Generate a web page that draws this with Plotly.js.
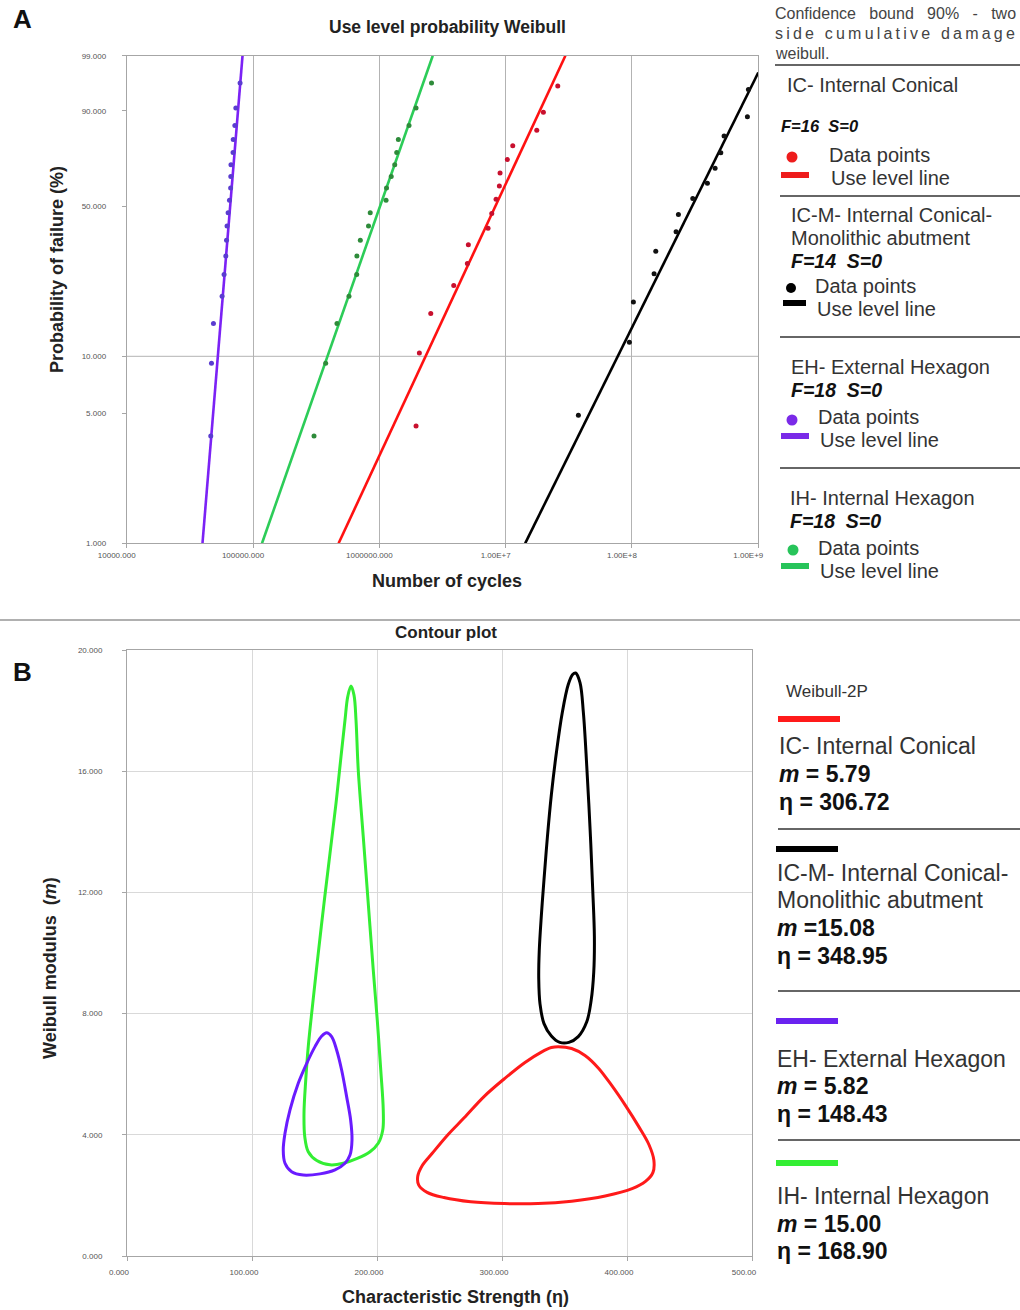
<!DOCTYPE html>
<html><head><meta charset="utf-8">
<script src="https://cdn.plot.ly/plotly-3.0.1.min.js"></script>
<style>html,body{margin:0;padding:0;background:#fff}#chart{width:1020px;height:1310px}</style>
</head><body><div id="chart"></div>
<script>
// ================= Panel A: Use level probability Weibull =================
const yTickProb = [1, 5, 10, 50, 90, 99];
const yTickText = ["1.000", "5.000", "10.000", "50.000", "90.000", "99.000"];
const yGridProb = [10];
const xTickCycles = [1e4, 1e5, 1e6, 1e7, 1e8, 1e9];
const xTickText = ["10000.000", "100000.000", "1000000.000", "1.00E+7", "1.00E+8", "1.00E+9"];

// EH - External Hexagon (purple), F=18
const ehProb = [3.8, 9.2, 14.7, 20.1, 25.5, 31.0, 36.4, 41.8, 47.3, 52.7, 58.2, 63.6, 69.0, 74.5, 79.9, 85.3, 90.8, 96.2];
const ehCycles = [46300, 46900, 48600, 56900, 59000, 60900, 61700, 62300, 63500, 65100, 66500, 66700, 66900, 69500, 69700, 71800, 73100, 79000];
const ehLineProb = [1, 99];
const ehLineCycles = [39800, 82600];

// IH - Internal Hexagon (green), F=18
const ihProb = [3.8, 9.2, 14.7, 20.1, 25.5, 31.0, 36.4, 41.8, 47.3, 52.7, 58.2, 63.6, 69.0, 74.5, 79.9, 85.3, 90.8, 96.2];
const ihCycles = [304000, 376000, 462000, 575000, 662000, 664000, 707000, 821000, 847000, 1130000, 1140000, 1242000, 1324000, 1373000, 1414000, 1718000, 1953000, 2589000];
const ihLineProb = [1, 99];
const ihLineCycles = [117800, 2647000];

// IC - Internal Conical (red), F=16
const icProb = [4.3, 10.4, 16.5, 22.6, 28.7, 34.8, 40.9, 47.0, 53.1, 59.2, 65.2, 71.3, 77.4, 83.5, 89.6, 95.7];
const icCycles = [1953000, 2074000, 2553000, 3882000, 4975000, 5066000, 7256000, 7762000, 8395000, 8915000, 9030000, 10316000, 11380000, 17630000, 19890000, 25850000];
const icLineProb = [1, 99];
const icLineCycles = [476000, 29700000];

// IC-M - Internal Conical-Monolithic abutment (black), F=14
const icmProb = [4.9, 11.8, 18.8, 25.7, 32.6, 39.6, 46.5, 53.5, 60.4, 67.4, 74.3, 81.3, 88.2, 95.1];
const icmCycles = [37640000, 95370000, 102600000, 149600000, 154300000, 223400000, 233100000, 302900000, 395400000, 455000000, 504700000, 535800000, 819700000, 835000000];
const icmLineProb = [1, 97.6];
const icmLineCycles = [14270000, 1000000000];

// ================= Panel B: Contour plot =================
const bxTickVals = [0, 100, 200, 300, 400, 500];
const bxTickText = ["0.000", "100.000", "200.000", "300.000", "400.000", "500.00"];
const byTickVals = [0, 4, 8, 12, 16, 20];
const byTickText = ["0.000", "4.000", "8.000", "12.000", "16.000", "20.000"];

const icEta = [345.0, 355.7, 366.4, 377.2, 387.9, 398.7, 409.4, 417.5, 421.5, 420.7, 414.8, 404.1, 382.6, 355.7, 328.8, 301.9, 275.0, 253.5, 240.1, 233.4, 232.6, 236.1, 244.2, 256.2, 269.7, 285.8, 301.9, 318.1, 331.5, 339.5, 345.0];
const icM   = [6.91, 6.85, 6.62, 6.20, 5.62, 4.97, 4.27, 3.68, 3.16, 2.75, 2.46, 2.22, 1.98, 1.81, 1.73, 1.73, 1.79, 1.93, 2.10, 2.34, 2.63, 2.98, 3.39, 3.98, 4.56, 5.27, 5.85, 6.38, 6.73, 6.88, 6.91];

const icmEta = [358.9, 362.4, 365.1, 367.8, 370.5, 372.6, 373.9, 373.4, 371.3, 367.8, 361.0, 353.5, 346.2, 339.5, 333.6, 330.4, 329.4, 329.8, 331.5, 333.6, 336.3, 339.5, 343.6, 348.2, 353.0, 356.5, 358.9];
const icmM   = [19.24, 18.92, 17.93, 16.17, 14.06, 12.07, 10.54, 9.37, 8.43, 7.73, 7.24, 7.05, 7.05, 7.26, 7.67, 8.32, 9.14, 10.07, 11.25, 12.42, 13.82, 15.23, 16.64, 17.93, 18.86, 19.19, 19.24];

const ehEta = [159.7, 163.7, 167.7, 171.7, 175.7, 178.9, 180.0, 178.4, 174.4, 166.4, 154.4, 141.0, 131.7, 126.4, 125.0, 126.4, 130.4, 137.0, 143.8, 150.4, 155.8, 159.7];
const ehM   = [7.37, 7.24, 6.80, 6.14, 5.26, 4.49, 3.83, 3.33, 3.06, 2.84, 2.71, 2.67, 2.78, 3.06, 3.50, 4.05, 4.82, 5.70, 6.36, 6.91, 7.26, 7.37];

const ihEta = [179.2, 181.6, 183.2, 185.0, 189.0, 193.0, 197.0, 200.2, 203.0, 205.0, 204.6, 201.0, 194.4, 184.2, 173.0, 162.4, 151.8, 145.0, 142.2, 141.6, 143.0, 145.0, 148.6, 153.0, 157.6, 162.4, 167.2, 171.2, 174.4, 176.6, 179.2];
const ihM   = [18.81, 18.51, 17.69, 16.04, 13.84, 11.64, 9.44, 7.79, 6.14, 4.82, 4.16, 3.72, 3.44, 3.22, 3.06, 3.01, 3.15, 3.44, 3.94, 4.71, 5.81, 6.91, 8.34, 9.99, 11.64, 13.29, 14.94, 16.48, 17.69, 18.46, 18.81];

// ================= Rendering =================
const W = p => Math.log(-Math.log(1 - p / 100));   // Weibull probability scale
const PW = 1020, PH = 1310;
const fx = x => x / PW, fy = y => 1 - y / PH;
const FONT = "Liberation Sans, Arial, sans-serif";

const traces = [];
function addA(cyc, prob, lCyc, lProb, ptCol, lnCol) {
  traces.push({type: 'scatter', mode: 'lines', x: lCyc, y: lProb.map(W), xaxis: 'x', yaxis: 'y',
    line: {color: lnCol, width: 2.6}, hoverinfo: 'skip', showlegend: false});
  traces.push({type: 'scatter', mode: 'markers', x: cyc, y: prob.map(W), xaxis: 'x', yaxis: 'y',
    marker: {color: ptCol, size: 5, symbol: 'circle'}, showlegend: false});
}
addA(ehCycles, ehProb, ehLineCycles, ehLineProb, '#5a3cd0', '#7b22f5');
addA(ihCycles, ihProb, ihLineCycles, ihLineProb, '#2e8b3a', '#2ccc58');
addA(icCycles, icProb, icLineCycles, icLineProb, '#c8102e', '#ff1111');
addA(icmCycles, icmProb, icmLineCycles, icmLineProb, '#111111', '#000000');

function addB(eta, m, col) {
  traces.push({type: 'scatter', mode: 'lines', x: eta, y: m, xaxis: 'x2', yaxis: 'y2',
    line: {color: col, width: 3, shape: 'spline', smoothing: 1}, showlegend: false});
}
addB(ihEta, ihM, '#33ee33');
addB(ehEta, ehM, '#6a1bff');
addB(icmEta, icmM, '#000000');
addB(icEta, icM, '#ff1a1a');

const tickFont = {size: 8, color: '#555', family: FONT};

const annotations = [];
function txt(x, y, text, size, opts) {
  annotations.push(Object.assign({xref: 'paper', yref: 'paper', x: fx(x), y: fy(y), text: text,
    showarrow: false, xanchor: 'left', yanchor: 'middle',
    font: {size: size, color: '#333', family: FONT}}, opts || {}));
}
const shapes = [];
function hline(x0, x1, y, col, w) {
  shapes.push({type: 'line', xref: 'paper', yref: 'paper', x0: fx(x0), x1: fx(x1), y0: fy(y), y1: fy(y), line: {color: col, width: w}});
}
function bar(x0, x1, y, col, h) {
  shapes.push({type: 'rect', xref: 'paper', yref: 'paper', x0: fx(x0), x1: fx(x1), y0: fy(y - h / 2), y1: fy(y + h / 2), fillcolor: col, line: {width: 0}});
}
function dot(x, y, r, col) {
  shapes.push({type: 'circle', xref: 'paper', yref: 'paper', x0: fx(x - r), x1: fx(x + r), y0: fy(y + r), y1: fy(y - r), fillcolor: col, line: {width: 0}});
}

// gridline at 10 %
yGridProb.forEach(p => shapes.push({type: 'line', xref: 'x domain', yref: 'y', x0: 0, x1: 1, y0: W(p), y1: W(p),
  line: {color: '#b3b3b3', width: 1}, layer: 'below'}));

// separator between panels
hline(0, 1020, 620, '#b0b0b0', 2);

// Panel labels and titles
txt(22, 19, '<b>A</b>', 26, {xanchor: 'center', font: {size: 26, color: '#111', family: FONT}});
txt(22, 672, '<b>B</b>', 26, {xanchor: 'center', font: {size: 26, color: '#111', family: FONT}});
txt(447, 27, '<b>Use level probability Weibull</b>', 17, {xanchor: 'center', font: {size: 17.5, color: '#222', family: FONT}});
txt(447, 581, '<b>Number of cycles</b>', 18, {xanchor: 'center', font: {size: 18, color: '#222', family: FONT}});
txt(57, 270, '<b>Probability of failure (%)</b>', 18, {xanchor: 'center', textangle: -90, font: {size: 18, color: '#222', family: FONT}});
txt(446, 632, '<b>Contour plot</b>', 17, {xanchor: 'center', font: {size: 17, color: '#222', family: FONT}});
txt(455, 1297, '<b>Characteristic Strength (η)</b>', 18, {xanchor: 'center', font: {size: 18, color: '#222', family: FONT}});
txt(50, 968, '<b>Weibull modulus  (<i>m</i>)</b>', 18, {xanchor: 'center', textangle: -90, font: {size: 18, color: '#222', family: FONT}});

// ---- Panel A legend ----
const NB = '\u00a0', TS = '\u2009';
const hdrFont = {size: 16, color: '#444', family: FONT};
const G3 = NB + NB + NB;
txt(773, 13, 'Confidence' + G3 + 'bound' + G3 + '90%' + G3 + '-' + G3 + 'two', 16, {font: hdrFont});
txt(773, 33, ['side', 'cumulative', 'damage'].map(w => w.split('').join(TS)).join(TS + NB + TS), 16, {font: hdrFont});
txt(773, 53, 'weibull.', 16, {font: hdrFont});
hline(775, 1020, 65, '#666', 2);

const LF = 20;
const fsFont = {size: 19.5, color: '#111', family: FONT};
txt(785, 85, 'IC- Internal Conical', LF);
txt(779, 126, '<b><i>F=16  S=0</i></b>', 16.5, {font: {size: 16.5, color: '#111', family: FONT}});
dot(792, 157, 5.5, '#ee1c1c');
txt(827, 155, 'Data points', LF);
bar(781, 809, 175, '#ee1c1c', 6);
txt(829, 178, 'Use level line', LF);
hline(780, 1020, 196, '#666', 2);

txt(789, 215, 'IC-M- Internal Conical-', LF);
txt(789, 238, 'Monolithic abutment', LF);
txt(789, 261, '<b><i>F=14  S=0</i></b>', 19.5, {font: fsFont});
dot(791, 288, 5, '#000');
txt(813, 286, 'Data points', LF);
bar(783, 806, 303, '#000', 6);
txt(815, 309, 'Use level line', LF);
hline(780, 1020, 337, '#666', 2);

txt(789, 367, 'EH- External Hexagon', LF);
txt(789, 390, '<b><i>F=18  S=0</i></b>', 19.5, {font: fsFont});
dot(792, 420, 5.5, '#7a2ae8');
txt(816, 417, 'Data points', LF);
bar(781, 809, 436, '#7a2ae8', 6);
txt(818, 440, 'Use level line', LF);
hline(780, 1020, 468, '#666', 2);

txt(788, 498, 'IH- Internal Hexagon', LF);
txt(788, 521, '<b><i>F=18  S=0</i></b>', 19.5, {font: fsFont});
dot(793, 550, 5.5, '#27c45a');
txt(816, 548, 'Data points', LF);
bar(781, 809, 566, '#27c45a', 6);
txt(818, 571, 'Use level line', LF);

// ---- Panel B legend ----
const BF = 23;
const bFont = {size: BF, color: '#111', family: FONT};
txt(784, 692, 'Weibull-2P', 17);
bar(778, 840, 719, '#ff1a1a', 6);
txt(777, 746, 'IC- Internal Conical', BF);
txt(777, 774, '<b><i>m</i> = 5.79</b>', BF, {font: bFont});
txt(777, 802, '<b>η = 306.72</b>', BF, {font: bFont});
hline(778, 1020, 829, '#666', 2);

bar(776, 838, 849, '#000', 6);
txt(775, 873, 'IC-M- Internal Conical-', BF);
txt(775, 900, 'Monolithic abutment', BF);
txt(775, 928, '<b><i>m</i> =15.08</b>', BF, {font: bFont});
txt(775, 956, '<b>η = 348.95</b>', BF, {font: bFont});
hline(778, 1020, 991, '#666', 2);

bar(776, 838, 1021, '#6a22f0', 6);
txt(775, 1059, 'EH- External Hexagon', BF);
txt(775, 1086, '<b><i>m</i> = 5.82</b>', BF, {font: bFont});
txt(775, 1114, '<b>η = 148.43</b>', BF, {font: bFont});
hline(778, 1020, 1140, '#666', 2);

bar(776, 838, 1163, '#33ee33', 6);
txt(775, 1196, 'IH- Internal Hexagon', BF);
txt(775, 1224, '<b><i>m</i> = 15.00</b>', BF, {font: bFont});
txt(775, 1251, '<b>η = 168.90</b>', BF, {font: bFont});

const axCommon = {showline: true, mirror: true, linecolor: '#a6a6a6', linewidth: 1, ticks: 'outside', ticklen: 4,
  tickcolor: '#a6a6a6', tickfont: tickFont, zeroline: false, fixedrange: true};

const layout = {
  width: PW, height: PH, margin: {l: 0, r: 0, t: 0, b: 0},
  paper_bgcolor: '#fff', plot_bgcolor: '#fff', showlegend: false,
  font: {family: FONT},
  xaxis: Object.assign({}, axCommon, {type: 'log', range: [4, 9], domain: [fx(126.7), fx(758.3)], anchor: 'y',
    tickmode: 'array', tickvals: xTickCycles, ticktext: xTickText, showgrid: true, gridcolor: '#b3b3b3', gridwidth: 1,
    ticklabelshift: -10}),
  yaxis: Object.assign({}, axCommon, {range: [W(1), W(99)], domain: [fy(543.3), fy(55.7)], anchor: 'x',
    tickmode: 'array', tickvals: yTickProb.map(W), ticktext: yTickText, showgrid: false, ticklabelstandoff: 14}),
  xaxis2: Object.assign({}, axCommon, {range: [0, 500], domain: [fx(127), fx(752)], anchor: 'y2',
    tickmode: 'array', tickvals: bxTickVals, ticktext: bxTickText, showgrid: true, gridcolor: '#d9d9d9', gridwidth: 1,
    ticklabelshift: -8, ticklabelstandoff: 4}),
  yaxis2: Object.assign({}, axCommon, {range: [0, 20], domain: [fy(1256), fy(650)], anchor: 'x2',
    tickmode: 'array', tickvals: byTickVals, ticktext: byTickText, showgrid: true, gridcolor: '#d9d9d9', gridwidth: 1,
    ticklabelstandoff: 18}),
  annotations: annotations,
  shapes: shapes
};

Plotly.newPlot('chart', traces, layout, {displayModeBar: false, staticPlot: true});
</script>
</body></html>
